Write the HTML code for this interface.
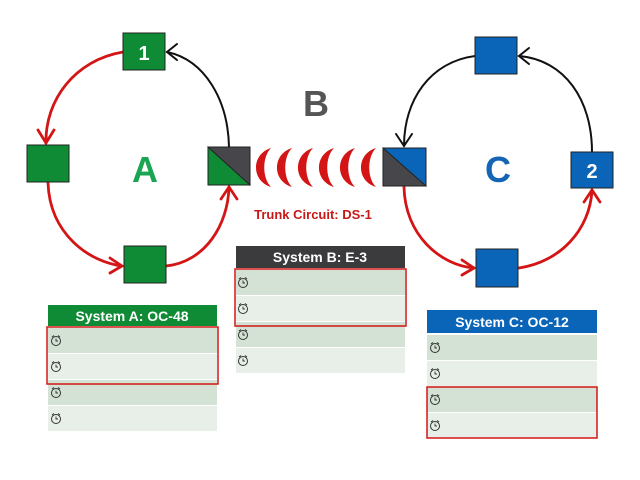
<!DOCTYPE html>
<html><head><style>body{margin:0;background:#fff}svg{display:block}</style></head><body>
<svg width="640" height="480" viewBox="0 0 640 480" xmlns="http://www.w3.org/2000/svg" font-family="Liberation Sans, sans-serif">
<defs>
<g id="clk"><circle cx="0" cy="0" r="4.5" fill="none" stroke="#333" stroke-width="1"/><path d="M0,-2.5 V0 H2" fill="none" stroke="#333" stroke-width="0.9"/><path d="M-4,-4 l2,-1.5 M4,-4 l-2,-1.5" stroke="#333" stroke-width="1"/></g>
</defs>
<g fill="none" stroke-width="2.8" stroke-linecap="round">
<path d="M123,52 C75,60 45,100 46,143" stroke="#d41515"/>
<path d="M38,130 L46,143 L54,130" stroke="#d41515"/>
<path d="M48,183 C50,235 90,262 122,266" stroke="#d41515"/>
<path d="M110,258 L122,266 L110,273" stroke="#d41515"/>
<path d="M166,266 C205,262 228,225 229,187" stroke="#d41515"/>
<path d="M221,199 L229,187 L237,199" stroke="#d41515"/>
<path d="M229,147 C228,100 205,60 167,52" stroke="#111" stroke-width="2"/>
<path d="M177,44 L167,52 L177,60" stroke="#111" stroke-width="2"/>
<path d="M475,56 C430,62 404,100 404,146" stroke="#111" stroke-width="2"/>
<path d="M396,134 L404,146 L412,134" stroke="#111" stroke-width="2"/>
<path d="M592,152 C592,100 565,60 519,56" stroke="#111" stroke-width="2"/>
<path d="M529,48 L519,56 L529,64" stroke="#111" stroke-width="2"/>
<path d="M404,187 C405,235 440,265 474,268" stroke="#d41515"/>
<path d="M462,260 L474,268 L462,275" stroke="#d41515"/>
<path d="M519,268 C560,262 590,230 592,190" stroke="#d41515"/>
<path d="M584,202 L592,190 L600,202" stroke="#d41515"/>
</g>
<g stroke="#222" stroke-width="1">
<rect x="123" y="33" width="42" height="37" fill="#0f8a35"/>
<rect x="27" y="145" width="42" height="37" fill="#0f8a35"/>
<rect x="124" y="246" width="42" height="37" fill="#0f8a35"/>
<rect x="208" y="147" width="42" height="38" fill="#47474b"/>
<path d="M208,147 L250,185 L208,185 Z" fill="#0f8a35"/>
<rect x="475" y="37" width="42" height="37" fill="#0a64b8"/>
<rect x="383" y="148" width="43" height="38" fill="#0a64b8"/>
<path d="M383,148 L426,186 L383,186 Z" fill="#47474b"/>
<rect x="571" y="152" width="42" height="36" fill="#0a64b8"/>
<rect x="476" y="249" width="42" height="38" fill="#0a64b8"/>
</g>
<text x="144" y="60" fill="#fff" font-size="20" font-weight="bold" text-anchor="middle">1</text>
<text x="592" y="178" fill="#fff" font-size="20" font-weight="bold" text-anchor="middle">2</text>
<text x="145" y="182" fill="#1aa552" font-size="36" font-weight="bold" text-anchor="middle">A</text>
<text x="498" y="182" fill="#1466b5" font-size="36" font-weight="bold" text-anchor="middle">C</text>
<text x="316" y="116" fill="#555" font-size="36" font-weight="bold" text-anchor="middle">B</text>
<g fill="#d41515">
<path id="w" d="M271,148 C251,154 251,181 271,187 C262,178 262,157 271,148 Z"/>
<use href="#w" x="21"/><use href="#w" x="42"/><use href="#w" x="63"/><use href="#w" x="84"/><use href="#w" x="105"/>
</g>
<text x="313" y="219" fill="#c81818" font-size="13" font-weight="bold" text-anchor="middle">Trunk Circuit: DS-1</text>
<rect x="236" y="246" width="169" height="22" fill="#3b3b3d"/>
<text x="320" y="262" fill="#fff" font-size="14" font-weight="bold" text-anchor="middle">System B: E-3</text>
<rect x="236" y="270" width="169" height="25" fill="#d3e2d4"/>
<rect x="236" y="296" width="169" height="25" fill="#e8efe8"/>
<rect x="236" y="322" width="169" height="25" fill="#d3e2d4"/>
<rect x="236" y="348" width="169" height="25" fill="#e8efe8"/>
<use href="#clk" x="243" y="283"/><use href="#clk" x="243" y="309"/><use href="#clk" x="243" y="335"/><use href="#clk" x="243" y="361"/>
<rect x="235" y="269" width="171" height="57" fill="none" stroke="#d41515" stroke-width="1.5"/>
<rect x="48" y="305" width="169" height="21" fill="#0f8a35"/>
<text x="132" y="321" fill="#fff" font-size="14" font-weight="bold" text-anchor="middle">System A: OC-48</text>
<rect x="48" y="328" width="169" height="25" fill="#d3e2d4"/>
<rect x="48" y="354" width="169" height="25" fill="#e8efe8"/>
<rect x="48" y="380" width="169" height="25" fill="#d3e2d4"/>
<rect x="48" y="406" width="169" height="25" fill="#e8efe8"/>
<use href="#clk" x="56" y="341"/><use href="#clk" x="56" y="367"/><use href="#clk" x="56" y="393"/><use href="#clk" x="56" y="419"/>
<rect x="47" y="327" width="171" height="57" fill="none" stroke="#d41515" stroke-width="1.5"/>
<rect x="427" y="310" width="170" height="23" fill="#0a64b8"/>
<text x="512" y="327" fill="#fff" font-size="14" font-weight="bold" text-anchor="middle">System C: OC-12</text>
<rect x="427" y="335" width="170" height="25" fill="#d3e2d4"/>
<rect x="427" y="361" width="170" height="25" fill="#e8efe8"/>
<rect x="427" y="387" width="170" height="25" fill="#d3e2d4"/>
<rect x="427" y="413" width="170" height="25" fill="#e8efe8"/>
<use href="#clk" x="435" y="348"/><use href="#clk" x="435" y="374"/><use href="#clk" x="435" y="400"/><use href="#clk" x="435" y="426"/>
<rect x="427" y="387" width="170" height="51" fill="none" stroke="#d41515" stroke-width="1.5"/>
</svg>
</body></html>
